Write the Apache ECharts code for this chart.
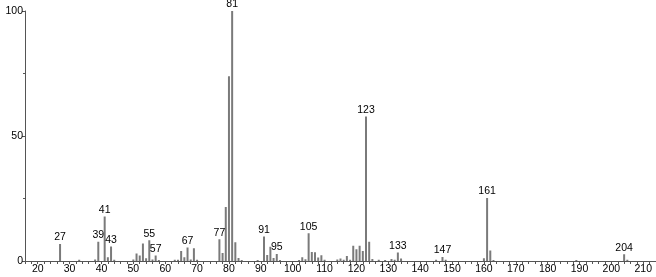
<!DOCTYPE html>
<html>
<head>
<meta charset="utf-8">
<script src="https://cdn.jsdelivr.net/npm/echarts@6/dist/echarts.min.js"></script>
<style>html,body{margin:0;padding:0;background:#fff}#c{width:656px;height:277px}</style>
</head>
<body>
<div id="c"></div>
<script>
const mz = [27,33,38,39,41,42,43,44,50,51,52,53,54,55,56,57,58,63,64,65,66,67,68,69,70,77,78,79,80,81,82,83,84,89,91,92,93,94,95,96,102,103,104,105,106,107,108,109,110,114,115,116,117,118,119,120,121,122,123,124,125,127,129,131,132,133,134,145,147,148,160,161,162,163,189,204,205];
const intensity = [6.8,0.5,0.6,7.7,17.8,1.5,5.8,0.5,0.6,3.0,2.2,7.0,1.1,8.3,0.6,2.2,0.4,0.5,0.5,4.0,1.5,5.4,0.6,5.1,0.5,8.7,3.2,21.6,73.9,100,7.5,1.2,0.4,0.4,9.8,2.4,5.7,1.2,2.8,0.4,0.4,1.5,0.7,11.1,3.6,3.5,1.4,2.3,0.5,0.6,1.0,0.5,2.0,0.5,6.1,4.7,6.1,4.0,57.8,7.7,0.8,0.5,0.4,0.8,0.5,3.4,1.0,0.5,1.6,0.5,1.1,25.2,4.2,0.4,0.4,2.7,0.5];
const labeledPeaks = [27,39,41,43,55,57,67,77,81,91,95,105,123,133,147,161,204];
const xTickLabels = [20,30,40,50,60,70,80,90,100,110,120,130,140,150,160,170,180,190,200,210];
const yTickLabels = [0,50,100];

const xMinorTicks = [];
for (let v = 16; v <= 214; v += 2) xMinorTicks.push(v);

const data = mz.map((m, i) => ({
  value: [m, intensity[i]],
  label: { show: labeledPeaks.includes(m) }
}));

const font = 'Liberation Sans';
const chart = echarts.init(document.getElementById('c'), null, { renderer: 'canvas' });
chart.setOption({
  animation: false,
  grid: { left: 25, right: 0, top: 11, bottom: 16, containLabel: false },
  xAxis: {
    type: 'value', min: 16, max: 214,
    axisLine: { show: true, lineStyle: { color: '#555', width: 1 } },
    axisTick: { show: true, customValues: xMinorTicks, length: 3, lineStyle: { color: '#555' } },
    axisLabel: { customValues: xTickLabels, color: '#000', fontFamily: font, fontSize: 10.5, margin: 3 },
    splitLine: { show: false }
  },
  yAxis: {
    type: 'value', min: 0, max: 100, interval: 50,
    axisLine: { show: true, lineStyle: { color: '#555', width: 1 } },
    axisTick: { show: true, length: 3, lineStyle: { color: '#555' } },
    minorTick: { show: true, splitNumber: 2, length: 2, lineStyle: { color: '#555' } },
    axisLabel: { color: '#000', fontFamily: font, fontSize: 10.5, margin: 2,
      customValues: yTickLabels },
    splitLine: { show: false }
  },
  series: [{
    type: 'bar',
    data: data,
    barWidth: 2,
    itemStyle: { color: '#7a7a7a' },
    label: {
      position: 'top', distance: 1, color: '#000', fontFamily: font, fontSize: 10.5,
      formatter: p => String(p.value[0])
    }
  }]
});
</script>
</body>
</html>
